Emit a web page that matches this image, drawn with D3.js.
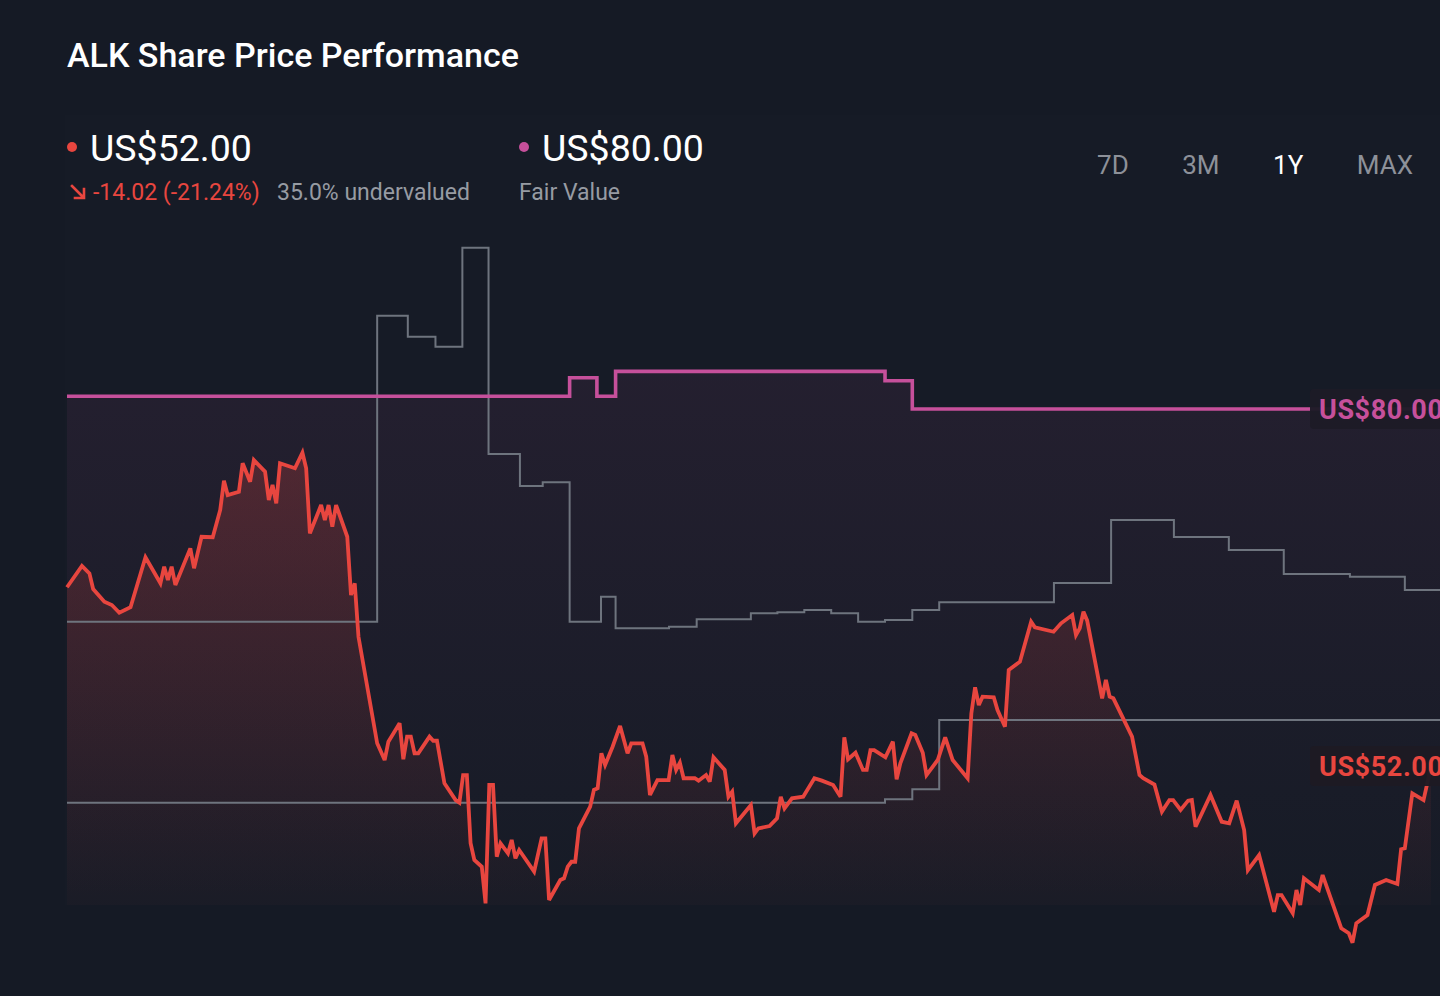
<!DOCTYPE html>
<html><head><meta charset="utf-8">
<script src="https://cdn.jsdelivr.net/npm/d3@7"></script>
<style>
html,body{margin:0;padding:0;background:#151a25;overflow:hidden}
svg{display:block;font-family:Roboto,"Noto Sans",sans-serif}
</style>
</head><body>
<svg id="chart" width="1440" height="996"></svg>
<script>
// ---- data (day offsets within the 1-year window, values in US$) ----
const pricePoints = [
[0,66.02],[4,67.69],[6,67.11],[7,65.88],[10,64.89],[12,64.63],[14,64.02],[17,64.45],[21,68.37],[25,66.33],
[26,67.63],[27,66.59],[28,67.63],[29,66.2],[33,69.07],[34,67.51],[36,69.98],[39,69.94],[41,72.08],[42,74.38],
[43,73.25],[46,73.51],[47,75.74],[49,74.30],[50,76.0],[53,75.08],[54,72.86],[55,74.04],[56,72.60],[57,75.74],
[61,75.35],[63,76.57],[64,75.35],[65,70.25],[68,72.47],[69,71.29],[70,72.47],[71,70.77],[72,72.47],[75,69.98],
[76,65.41],[77,66.33],[78,62.14],[83,53.78],[85,52.47],[86,53.91],[89,55.35],[90,52.53],[91,54.3],[92,54.3],
[93,53.0],[94,53.0],[97,54.3],[98,53.98],[99,53.98],[101,50.64],[104,49.33],[105,49.12],[106,51.29],[107,51.29],
[108,45.94],[109,44.63],[111,44.1],[112,41.23],[113,50.51],[114,50.51],[115,44.89],[116,45.94],[118,45.15],[119,46.2],
[120,44.76],[121,45.41],[125,43.71],[127,46.33],[128,46.33],[129,41.49],[132,43.06],[133,43.19],[134,44.1],[135,44.49],
[136,44.49],[137,47.11],[140,48.81],[141,50.12],[142,50.25],[143,53.0],[144,52.08],[146,53.51],[148,55.14],[150,53.0],
[151,53.78],[154,53.78],[155,52.73],[156,49.73],[158,50.9],[161,50.9],[162,52.86],[163,51.69],[164,52.26],[165,51.04],
[168,51.04],[169,50.85],[171,51.29],[172,50.77],[173,52.68],[176,51.69],[177,49.59],[178,49.98],[179,47.51],[183,48.94],
[184,46.72],[185,47.11],[188,47.29],[190,47.9],[191,49.59],[192,48.68],[194,49.47],[197,49.59],[200,51.04],[202,50.85],
[205,50.51],[207,49.59],[208,54.25],[209,52.53],[211,53.04],[213,51.69],[214,51.69],[215,53.25],[216,53.25],[219,52.68],
[221,53.91],[222,50.96],[223,52.21],[226,54.56],[227,54.43],[229,53.04],[230,51.29],[233,52.47],[235,54.25],[237,52.47],
[241,51.04],[242,56.13],[243,58.17],[244,56.78],[245,57.44],[248,57.39],[249,56.39],[251,55.08],[252,59.53],[255,60.18],
[258,63.32],[259,62.88],[264,62.53],[266,63.19],[269,63.84],[270,62.27],[271,62.8],[272,64.1],[273,63.4],[277,57.31],
[278,58.75],[279,57.44],[280,57.31],[285,54.3],[287,51.29],[288,51.04],[291,50.55],[293,48.42],[295,49.33],[296,49.33],
[298,48.55],[300,49.28],[301,49.33],[302,47.24],[306,49.73],[309,47.63],[311,47.51],[313,49.28],[315,46.98],[316,43.84],
[319,45.02],[323,40.57],[324,41.88],[325,41.88],[328,40.45],[329,42.27],[330,41.1],[331,43.19],[335,42.27],[336,43.45],
[341,39.27],[343,38.88],[344,38.14],[345,39.66],[348,40.31],[350,42.67],[353,43.06],[356,42.75],[357,45.47],[358,45.55],
[360,49.86],[363,49.33],[364,50.64],[365,52.0]
];
// fair value steps [start day, value]
const fairValueSteps = [[0,81.0],[134.5,82.45],[141.8,81.0],[146.8,82.95],[218.9,82.22],[226.2,80.0]];
// upper grey step series [start day, value]
const upperSteps = [
[0,63.32],[83.0,87.32],[91.2,85.67],[98.6,84.89],[105.8,92.65],[112.8,76.47],[121.2,73.96],[127.3,74.25],
[134.5,63.32],[142.9,65.28],[146.8,62.8],[161.1,62.93],[168.5,63.51],[183.0,63.98],[190.1,64.05],[197.3,64.24],
[204.5,63.98],[211.7,63.32],[218.9,63.45],[226.2,64.24],[233.4,64.85],[264.1,66.35],[279.4,71.29],[296.2,69.96],
[310.9,68.94],[325.6,67.06],[343.3,66.85],[358.0,65.8]
];
// lower grey step series [start day, value]
const lowerSteps = [[0,49.12],[218.9,49.39],[226.2,50.17],[233.4,55.61]];
const stepEndDay = 369;

const titleText = "ALK Share Price Performance";
const currentPrice = 52.00;
const priceChange = -14.02;
const priceChangePct = -21.24;
const undervaluedPct = 35.0;
const fairValue = 80.00;
const rangeTabs = ["7D","3M","1Y","MAX"];
const activeTab = "1Y";

// ---- drawing ----
const svg = d3.select("#chart");
const C = {bg:"#151a25", red:"#e8463f", pink:"#c6509b", grey:"#6e747e", sub:"#979ba3", tab:"#8d9199"};
const fmt2 = v => d3.format(".2f")(v).replace("\u2212","-");

const x = d3.scaleLinear().domain([0,365]).range([67,1431]);
const y = d3.scaleLinear().domain([52,80]).range([766,409]);
const floorY = 905;

svg.append("rect").attr("width",1440).attr("height",996).attr("fill",C.bg);

const defs = svg.append("defs");
const gRed = defs.append("linearGradient").attr("id","gRed").attr("gradientUnits","userSpaceOnUse")
  .attr("x1",0).attr("x2",0).attr("y1",440).attr("y2",floorY);
gRed.append("stop").attr("offset",0).attr("stop-color",C.red).attr("stop-opacity",0.24);
gRed.append("stop").attr("offset",1).attr("stop-color",C.red).attr("stop-opacity",0.02);
const gPink = defs.append("linearGradient").attr("id","gPink").attr("gradientUnits","userSpaceOnUse")
  .attr("x1",0).attr("x2",0).attr("y1",370).attr("y2",floorY);
gPink.append("stop").attr("offset",0).attr("stop-color",C.pink).attr("stop-opacity",0.08);
gPink.append("stop").attr("offset",1).attr("stop-color",C.pink).attr("stop-opacity",0.0);

// faint panel
svg.append("rect").attr("x",65).attr("y",115).attr("width",1375).attr("height",floorY-115)
  .attr("fill","#ffffff").attr("fill-opacity",0.007);

const stepData = s => s.map(d=>({t:d[0],v:d[1]})).concat([{t:stepEndDay,v:s[s.length-1][1]}]);
const stepLine = d3.line().x(d=>x(d.t)).y(d=>y(d.v)).curve(d3.curveStepAfter);
const stepArea = d3.area().x(d=>x(d.t)).y0(floorY).y1(d=>y(d.v)).curve(d3.curveStepAfter);

const price = pricePoints.map(d=>({t:d[0],v:d[1]}));
const priceLine = d3.line().x(d=>x(d.t)).y(d=>y(d.v)).curve(d3.curveLinear);
const priceArea = d3.area().x(d=>x(d.t)).y0(floorY).y1(d=>Math.min(y(d.v),floorY));

// areas
svg.append("path").attr("d",stepArea(stepData(fairValueSteps))).attr("fill","url(#gPink)");
svg.append("path").attr("d",priceArea(price)).attr("fill","url(#gRed)");

// grey step lines
[upperSteps, lowerSteps].forEach(s=>{
  svg.append("path").attr("d",stepLine(stepData(s))).attr("fill","none")
    .attr("stroke",C.grey).attr("stroke-width",2);
});
// fair value line
svg.append("path").attr("d",stepLine(stepData(fairValueSteps))).attr("fill","none")
  .attr("stroke",C.pink).attr("stroke-width",3.6);
// price line
svg.append("path").attr("d",priceLine(price)).attr("fill","none")
  .attr("stroke",C.red).attr("stroke-width",3.8).attr("stroke-linejoin","miter").attr("stroke-miterlimit",3);

// right-edge labels
function edgeLabel(val, color, bg){
  const cy = y(val);
  svg.append("rect").attr("x",1310).attr("y",cy-20).attr("width",150).attr("height",40).attr("rx",4)
    .attr("fill",bg).attr("fill-opacity",0.96);
  svg.append("text").attr("x",1319).attr("y",cy+10).attr("fill",color)
    .attr("font-size",27).attr("font-weight",700).attr("letter-spacing",0.6)
    .text("US$"+fmt2(val));
}
edgeLabel(fairValue, C.pink, "#1d1b27");
edgeLabel(currentPrice, C.red, "#1d1a23");

// header
svg.append("text").attr("x",67).attr("y",67).attr("fill","#ffffff").attr("font-size",34)
  .attr("font-weight",500).text(titleText);

svg.append("circle").attr("cx",72).attr("cy",147).attr("r",5).attr("fill",C.red);
svg.append("text").attr("x",90).attr("y",161).attr("fill","#ffffff").attr("font-size",37.5)
  .attr("font-weight",400).text("US$"+fmt2(currentPrice));

svg.append("circle").attr("cx",524).attr("cy",147).attr("r",5).attr("fill",C.pink);
svg.append("text").attr("x",542).attr("y",161).attr("fill","#ffffff").attr("font-size",37.5)
  .attr("font-weight",400).text("US$"+fmt2(fairValue));

// down arrow icon
svg.append("path").attr("d","M72,186 L83,197 M75,198 L84,198 L84,189").attr("fill","none")
  .attr("stroke",C.red).attr("stroke-width",2.6).attr("stroke-linecap","square");
svg.append("text").attr("x",93).attr("y",200).attr("fill",C.red).attr("font-size",23)
  .text(fmt2(priceChange)+" ("+fmt2(priceChangePct)+"%)");
svg.append("text").attr("x",277).attr("y",200).attr("fill",C.sub).attr("font-size",23)
  .text(d3.format(".1f")(undervaluedPct)+"% undervalued");
svg.append("text").attr("x",519).attr("y",200).attr("fill",C.sub).attr("font-size",23)
  .text("Fair Value");

// range tabs, laid out right-to-left with constant gaps
const tabs = svg.selectAll(".tab").data(rangeTabs).join("text").attr("class","tab")
  .attr("y",174).attr("font-size",26)
  .attr("fill",d=>d===activeTab?"#ffffff":C.tab).text(d=>d);
let cursor = 1413;
const nodes = tabs.nodes();
for (let i = nodes.length-1; i>=0; i--) {
  const w = nodes[i].getComputedTextLength();
  d3.select(nodes[i]).attr("x", cursor - w);
  cursor = cursor - w - 53.5;
}
</script>
</body></html>
